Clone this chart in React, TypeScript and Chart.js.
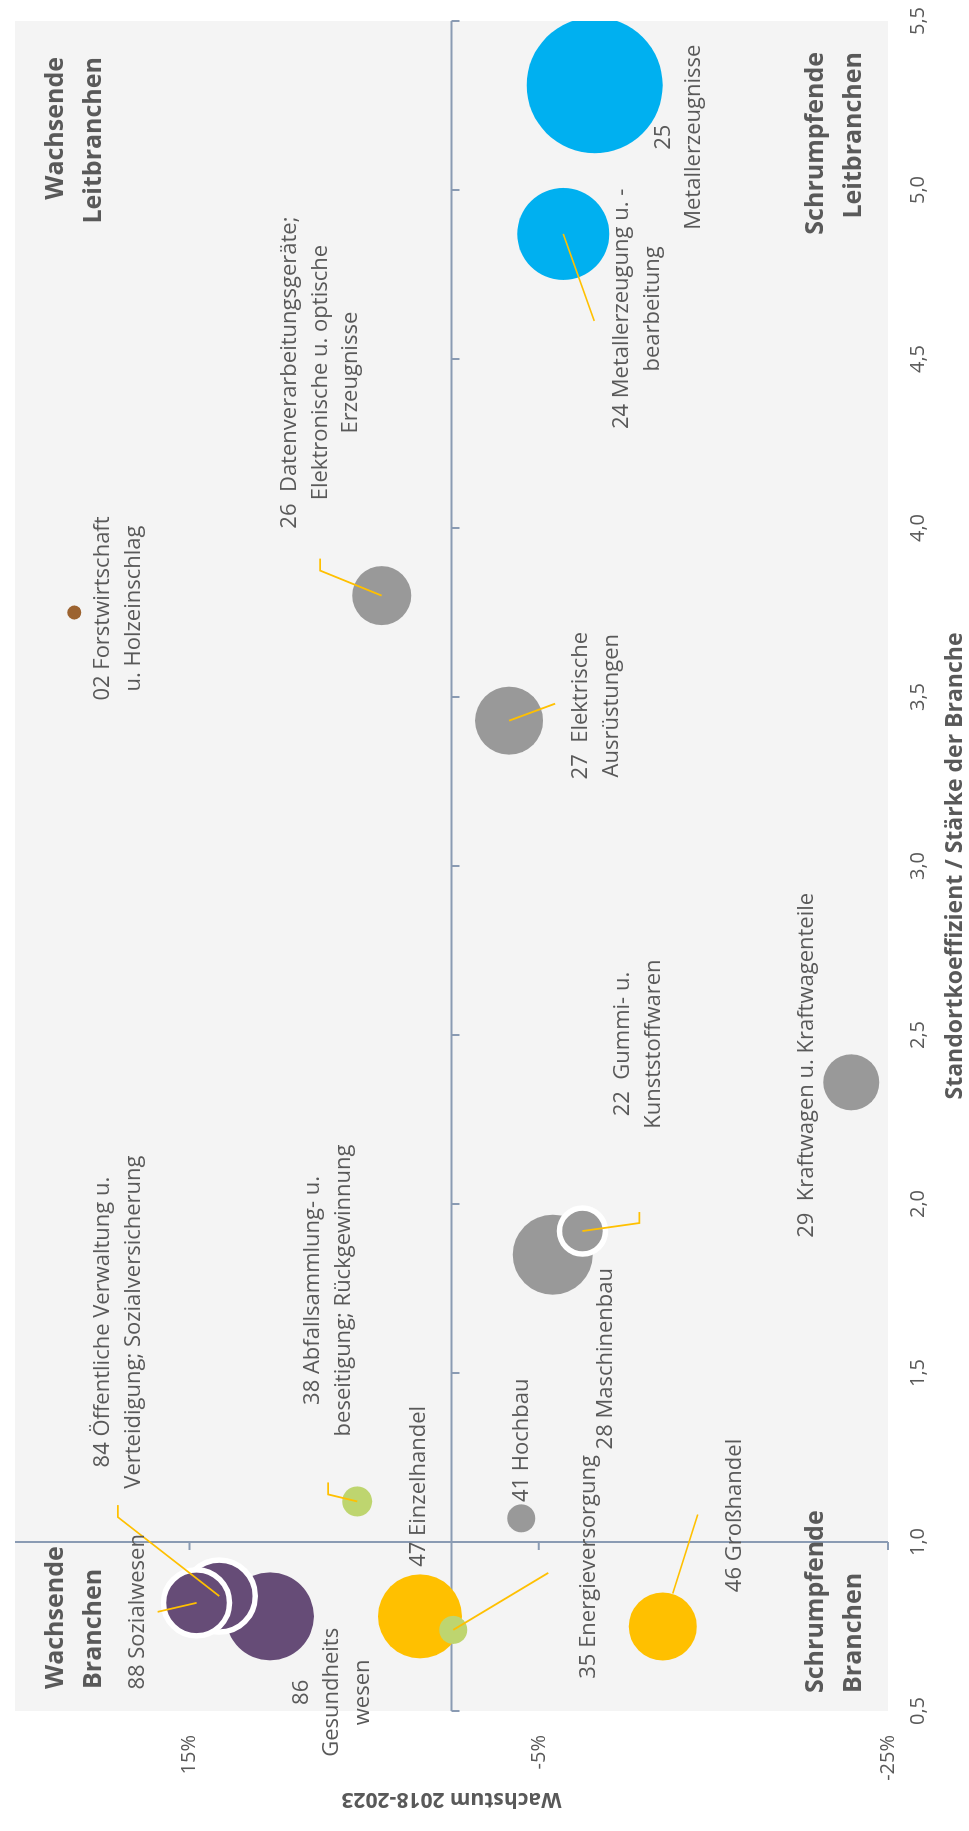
import React, { useEffect, useRef } from "react";
import { Chart, registerables } from "chart.js";

Chart.register(...registerables);

// ---------- data ----------
const CODES = ["86", "84", "88", "47", "35", "46", "38", "41", "28", "22", "29", "27", "26", "02", "24", "25"];
const LABELS: string[][] = [
  ["86", "Gesundheits", "wesen"],
  ["84 Öffentliche Verwaltung u.", "Verteidigung; Sozialversicherung"],
  ["88 Sozialwesen"],
  ["47 Einzelhandel"],
  ["35 Energieversorgung"],
  ["46 Großhandel"],
  ["38 Abfallsammlung- u.", "beseitigung; Rückgewinnung"],
  ["41 Hochbau"],
  ["28 Maschinenbau"],
  ["22  Gummi- u.", "Kunststoffwaren"],
  ["29  Kraftwagen u. Kraftwagenteile"],
  ["27  Elektrische", "Ausrüstungen"],
  ["26  Datenverarbeitungsgeräte;", "Elektronische u. optische", "Erzeugnisse"],
  ["02 Forstwirtschaft", "u. Holzeinschlag"],
  ["24 Metallerzeugung u. -", "bearbeitung"],
  ["25", "Metallerzeugnisse"],
];
// Standortkoeffizient (x)
const STANDORT = [0.78, 0.84, 0.82, 0.78, 0.74, 0.75, 1.12, 1.07, 1.85, 1.92, 2.36, 3.43, 3.8, 3.75, 4.87, 5.31];
// Wachstum 2018-2023 in % (y)
const WACHSTUM = [10.4, 13.3, 14.6, 1.8, -0.1, -12.1, 5.4, -4.0, -5.8, -7.5, -22.9, -3.3, 4.0, 21.6, -6.4, -8.2];
// bubble size (radius)
const SIZE = [44, 36, 33, 42, 14, 34, 15, 14, 40, 23, 28, 34, 29.5, 7, 46, 68];
const GROUP = ["sozial", "sozial", "sozial", "handel", "versorgung", "handel", "versorgung", "industrie", "industrie", "industrie", "industrie", "industrie", "industrie", "forst", "metall", "metall"];
const RING = [false, true, true, false, false, false, false, false, false, true, false, false, false, false, false, false];

const X_TICKS = [0.5, 1.0, 1.5, 2.0, 2.5, 3.0, 3.5, 4.0, 4.5, 5.0, 5.5];
const Y_TICKS = [-25, -5, 15];
const X_CROSS = 1.0;
const Y_CROSS = 0;

const QUADRANTS = [
  { lines: ["Wachsende", "Branchen"], corner: "tl" },
  { lines: ["Wachsende", "Leitbranchen"], corner: "tr" },
  { lines: ["Schrumpfende", "Branchen"], corner: "bl" },
  { lines: ["Schrumpfende", "Leitbranchen"], corner: "br" },
];

// ---------- layout / style ----------
const W = 1831;
const H = 969;
const GROUP_COLORS: Record<string, string> = {
  sozial: "#664C77",
  handel: "#FFC000",
  versorgung: "#BED56F",
  industrie: "#999999",
  forst: "#9C6330",
  metall: "#00B0F0",
};
const TEXT = "#595959";
const AXIS = "#8A9BB3";
const LEADER = "#FFC000";
const PLOT_BG = "#F4F4F4";
const LINE_H = 30.5;

// label block centre offsets from bubble centre (px)
const LABEL_OFF: [number, number][] = [
  [-76, 62], [274, -101], [-9, -59], [130, -1], [63, 135], [111, 72], [211, -29], [78, 0],
  [-104, 53], [187, 56], [17, -45], [15, 87], [223, -61], [4, 44], [-75, 74], [-52, 84],
];
const LEADERS: ([number, number][] | null)[] = [
  null,
  [[0, 0], [79, -101.5], [91, -101.5]],
  [[0, 0], [-9, -39]],
  null,
  [[0, 0], [57, 95]],
  [[33, 10], [112, 35]],
  [[0, 0], [7, -29], [19, -29]],
  null,
  null,
  [[0, 0], [8, 57], [19, 57]],
  null,
  [[0, 0], [17, 46]],
  [[0, 0], [25, -61.5], [37, -61.5]],
  null,
  [[0, 0], [-87, 31]],
  null,
];

export default function App() {
  const ref = useRef<HTMLCanvasElement>(null);

  useEffect(() => {
    const canvas = ref.current;
    if (!canvas) return;

    const points = STANDORT.map((x, i) => ({ x, y: WACHSTUM[i], r: SIZE[i] }));
    const colors = GROUP.map((g) => GROUP_COLORS[g]);

    const bgPlugin = {
      id: "plotBg",
      beforeDraw(chart: any) {
        const { ctx, chartArea: a } = chart;
        ctx.save();
        ctx.fillStyle = PLOT_BG;
        ctx.fillRect(a.left, a.top, a.right - a.left, a.bottom - a.top);
        ctx.restore();
      },
    };

    const crossPlugin = {
      id: "crossAxes",
      beforeDatasetsDraw(chart: any) {
        const { ctx, chartArea: a, scales } = chart;
        const xs = scales.x;
        const ys = scales.y;
        const px = xs.getPixelForValue(X_CROSS);
        const py = ys.getPixelForValue(Y_CROSS);
        ctx.save();
        ctx.strokeStyle = AXIS;
        ctx.lineWidth = 2;
        ctx.beginPath();
        ctx.moveTo(px, a.top);
        ctx.lineTo(px, a.bottom);
        Y_TICKS.forEach((v) => {
          const yy = ys.getPixelForValue(v);
          ctx.moveTo(px - 8, yy);
          ctx.lineTo(px, yy);
        });
        ctx.moveTo(a.left, py);
        ctx.lineTo(a.right, py);
        X_TICKS.forEach((v) => {
          const xx = xs.getPixelForValue(v);
          ctx.moveTo(xx, py);
          ctx.lineTo(xx, py + 8);
        });
        ctx.stroke();
        ctx.restore();
      },
    };

    const labelPlugin = {
      id: "bubbleLabels",
      afterDatasetsDraw(chart: any) {
        const { ctx, chartArea: a } = chart;
        const meta = chart.getDatasetMeta(0);
        ctx.save();
        // leader lines
        ctx.strokeStyle = LEADER;
        ctx.lineWidth = 1.8;
        meta.data.forEach((el: any, i: number) => {
          const pts = LEADERS[i];
          if (!pts) return;
          ctx.beginPath();
          pts.forEach(([dx, dy], k) => {
            if (k === 0) ctx.moveTo(el.x + dx, el.y + dy);
            else ctx.lineTo(el.x + dx, el.y + dy);
          });
          ctx.stroke();
        });
        // labels
        ctx.fillStyle = TEXT;
        ctx.font = '22px "Open Sans"';
        ctx.textAlign = "center";
        ctx.textBaseline = "middle";
        meta.data.forEach((el: any, i: number) => {
          const lines = LABELS[i];
          const [dx, dy] = LABEL_OFF[i];
          const cx = el.x + dx;
          const cy = el.y + dy;
          lines.forEach((ln, k) => {
            ctx.fillText(ln, cx, cy + (k - (lines.length - 1) / 2) * LINE_H);
          });
        });
        // quadrant captions
        ctx.font = 'bold 25px "Open Sans"';
        ctx.textBaseline = "alphabetic";
        QUADRANTS.forEach((q) => {
          const top = q.corner[0] === "t";
          const left = q.corner[1] === "l";
          let x: number;
          if (left) {
            ctx.textAlign = "left";
            x = a.left + (top ? 22 : 18);
          } else {
            ctx.textAlign = "right";
            x = a.right - (top ? 36 : 31);
          }
          const b0 = top ? a.top + 48 : a.bottom - 65;
          q.lines.forEach((ln, k) => ctx.fillText(ln, x, b0 + k * 38));
        });
        ctx.restore();
      },
    };

    const chart = new Chart(canvas, {
      type: "bubble",
      data: {
        datasets: [
          {
            data: points,
            backgroundColor: colors,
            borderColor: RING.map((r) => (r ? "#FFFFFF" : "rgba(0,0,0,0)")),
            borderWidth: RING.map((r) => (r ? 5.5 : 0)),
            clip: 0,
          } as any,
        ],
      },
      options: {
        responsive: false,
        animation: false,
        devicePixelRatio: 1,
        events: [],
        layout: { autoPadding: false, padding: { top: 15, right: 21, left: 0, bottom: 0 } },
        plugins: {
          legend: { display: false },
          tooltip: { enabled: false },
        },
        scales: {
          x: {
            type: "linear",
            min: 0.5,
            max: 5.5,
            afterBuildTicks: (s: any) => {
              s.ticks = X_TICKS.map((v) => ({ value: v }));
            },
            afterFit: (s: any) => {
              s.height = 81;
              s.paddingLeft = 0;
              s.paddingRight = 0;
            },
            grid: { display: false, drawTicks: false },
            border: { display: false },
            ticks: {
              autoSkip: false,
              maxRotation: 0,
              padding: 18,
              color: TEXT,
              font: { family: "Open Sans", size: 20 },
              callback: (v: any) => Number(v).toFixed(1).replace(".", ","),
            },
            title: {
              display: true,
              text: "Standortkoeffizient / Stärke der Branche",
              color: TEXT,
              font: { family: "Open Sans", size: 23, weight: "bold", lineHeight: 1.2 },
              padding: { top: 0, bottom: 0 },
            },
          },
          y: {
            type: "linear",
            min: -25,
            max: 25,
            afterBuildTicks: (s: any) => {
              s.ticks = Y_TICKS.map((v) => ({ value: v }));
            },
            afterFit: (s: any) => {
              s.width = 120;
              s.paddingTop = 0;
              s.paddingBottom = 0;
            },
            grid: { display: false, drawTicks: false },
            border: { display: false },
            ticks: {
              autoSkip: false,
              padding: 24,
              color: TEXT,
              font: { family: "Open Sans", size: 20 },
              callback: (v: any) => `${v}%`,
            },
            title: {
              display: true,
              text: "Wachstum 2018-2023",
              color: TEXT,
              font: { family: "Open Sans", size: 21, weight: "bold", lineHeight: 1.2 },
              padding: { top: 19, bottom: 0 },
            },
          },
        },
      } as any,
      plugins: [bgPlugin, crossPlugin, labelPlugin],
    });

    return () => chart.destroy();
  }, []);

  return (
    <div
      style={{
        position: "fixed",
        left: 0,
        top: 0,
        width: W,
        height: H,
        transformOrigin: "0 0",
        transform: `translateY(${W}px) rotate(-90deg)`,
      }}
    >
      <canvas ref={ref} width={W} height={H} style={{ display: "block", width: W, height: H }} />
    </div>
  );
}
